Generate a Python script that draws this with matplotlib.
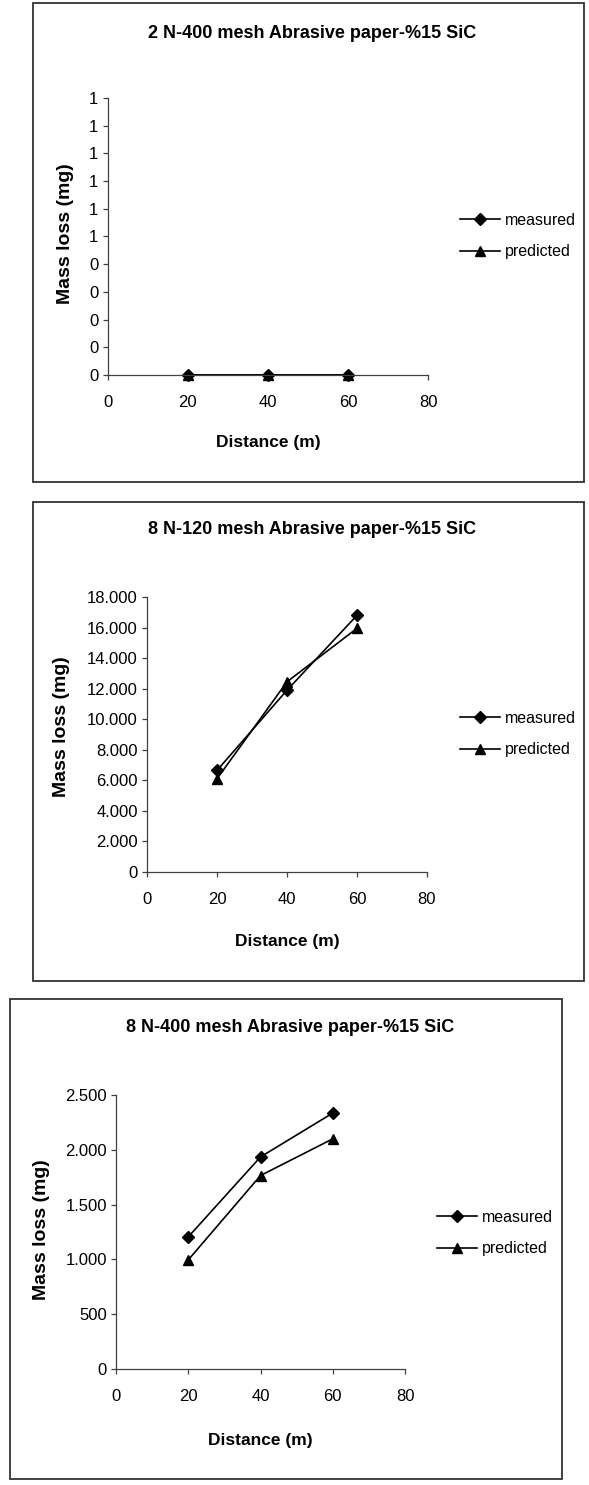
import math
import matplotlib
matplotlib.use("Agg")
import matplotlib.pyplot as plt
from matplotlib.patches import Rectangle
from matplotlib.ticker import FuncFormatter, MultipleLocator

plt.rcParams['font.family'] = ['Liberation Sans', 'DejaVu Sans']

distance = [20, 40, 60]

# 2 N load, 400 mesh
measured_2n400 = [0, 0, 0]
predicted_2n400 = [0, 0, 0]

# 8 N load, 120 mesh
measured_8n120 = [6650, 11900, 16800]
predicted_8n120 = [6100, 12450, 15950]

# 8 N load, 400 mesh
measured_8n400 = [1205, 1935, 2335]
predicted_8n400 = [995, 1765, 2100]

titles = ["2 N-400 mesh Abrasive paper-%15 SiC",
          "8 N-120 mesh Abrasive paper-%15 SiC",
          "8 N-400 mesh Abrasive paper-%15 SiC"]

W, H = 589, 1485
fig = plt.figure(figsize=(W / 100, H / 100), dpi=100)


def fx(px):
    return px / W


def fy(py):
    return 1 - py / H


def half_up(v, pos):
    return "%d" % math.floor(v + 0.5 + 1e-9)


def dotted_thousands(v, pos):
    return "{:,.0f}".format(v).replace(",", ".")


def panel(box, ax_px, ymax, ystep, fmt, meas, pred, title, title_xy,
          ylab_xy, xlab_xy, leg_xy):
    x0, y0, x1, y1 = box
    fig.patches.append(Rectangle((fx(x0), fy(y1)), fx(x1 - x0), (y1 - y0) / H,
                                 transform=fig.transFigure, fill=False,
                                 edgecolor="#333333", linewidth=1.3))
    l, t, r, b = ax_px
    ax = fig.add_axes([fx(l), fy(b), fx(r - l), (b - t) / H])
    ax.plot(distance, meas, color="black", marker="D", markersize=6,
            linewidth=1.2, label="measured", clip_on=False)
    ax.plot(distance, pred, color="black", marker="^", markersize=7.5,
            linewidth=1.2, label="predicted", clip_on=False)
    ax.set_xlim(0, 80)
    ax.set_ylim(0, ymax)
    ax.xaxis.set_major_locator(MultipleLocator(20))
    ax.yaxis.set_major_locator(MultipleLocator(ystep))
    ax.yaxis.set_major_formatter(FuncFormatter(fmt))
    for s in ["top", "right"]:
        ax.spines[s].set_visible(False)
    for s in ["left", "bottom"]:
        ax.spines[s].set_color("#404040")
        ax.spines[s].set_linewidth(0.9)
    ax.tick_params(direction="out", length=3.5, width=0.9, color="#404040",
                   labelsize=12, pad=3)
    ax.tick_params(axis="x", pad=11)
    fig.text(fx(title_xy[0]), fy(title_xy[1]), title,
             ha="center", va="center", fontsize=13, fontweight="bold")
    fig.text(fx(ylab_xy[0]), fy(ylab_xy[1]), "Mass loss (mg)", rotation=90,
             ha="center", va="center", fontsize=14, fontweight="bold")
    fig.text(fx(xlab_xy[0]), fy(xlab_xy[1]), "Distance (m)",
             ha="center", va="center", fontsize=12.5, fontweight="bold")
    ax.legend(loc="center left", bbox_to_anchor=(fx(leg_xy[0]), fy(leg_xy[1])),
              bbox_transform=fig.transFigure, frameon=False, fontsize=11.5,
              handlelength=2.5, handletextpad=0.3, labelspacing=1.05,
              borderpad=0, borderaxespad=0)
    return ax


panel((33, 3, 584, 482), (107.5, 98, 428, 375), 1.0, 0.1, half_up,
      measured_2n400, predicted_2n400, titles[0],
      (312, 33), (66, 234), (268, 443), (460, 236))

panel((33, 502, 584, 981), (147, 597, 427, 872), 18000, 2000,
      dotted_thousands, measured_8n120, predicted_8n120, titles[1],
      (312, 530), (62, 727), (287, 941), (460, 734))

panel((10, 999, 562, 1479), (116, 1095, 405, 1369), 2500, 500,
      dotted_thousands, measured_8n400, predicted_8n400, titles[2],
      (290, 1028), (42, 1230), (260, 1440), (437, 1233))

fig.savefig("out.png", dpi=100)
